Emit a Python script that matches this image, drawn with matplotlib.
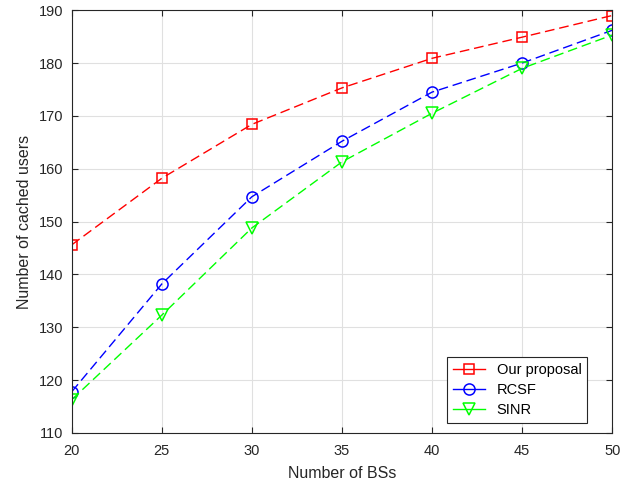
import matplotlib
matplotlib.use('Agg')
import matplotlib.pyplot as plt
from matplotlib.lines import Line2D

plt.rcParams['font.family'] = ['Liberation Sans', 'DejaVu Sans']

num_bs = [20, 25, 30, 35, 40, 45, 50]
our_proposal = [145.6, 158.2, 168.4, 175.3, 180.9, 184.9, 189.0]
rcsf = [117.8, 138.2, 154.7, 165.2, 174.5, 180.0, 186.2]
sinr = [116.3, 132.3, 148.8, 161.3, 170.5, 179.0, 185.3]
labels = ['Our proposal', 'RCSF', 'SINR']
colors = ['#ff0000', '#0000ff', '#00ff00']
markers = ['s', 'o', 'v']
sizes = [7, 8, 8]

fig = plt.figure(figsize=(6.24, 4.87), dpi=100)
ax = fig.add_axes([0.115, 0.111, 0.866, 0.868])

handles = []
for ys, lab, c, m, ms in zip([our_proposal, rcsf, sinr], labels, colors, markers, sizes):
    ax.plot(num_bs, ys, color=c, ls='--', dashes=(7, 3.5), marker=m, mfc='none',
            ms=ms, lw=1.0, mew=1.1)
    handles.append(Line2D([], [], color=c, ls='-', marker=m, mfc='none', ms=ms,
                          lw=1.0, mew=1.1, label=lab))

ax.set_xlim(20, 50)
ax.set_ylim(110, 190)
ax.set_xticks(range(20, 51, 5))
ax.set_yticks(range(110, 191, 10))
ax.grid(True, color='#e0e0e0', lw=0.8)
ax.set_axisbelow(True)
for s in ax.spines.values():
    s.set_color('#262626')
    s.set_linewidth(0.8)
ax.tick_params(direction='in', top=True, right=True, labelsize=10.5, colors='#262626', length=4)
ax.tick_params(axis='x', pad=8)
ax.tick_params(axis='y', pad=6)

ax.set_xlabel('Number of BSs', fontsize=11.5, color='#262626', labelpad=6)
ax.set_ylabel('Number of cached users', fontsize=11.5, color='#262626', labelpad=5)

leg = ax.legend(handles=handles, loc='lower right', bbox_to_anchor=(0.954, 0.024),
                borderaxespad=0, fontsize=10.5, fancybox=False, framealpha=1,
                edgecolor='#262626', handlelength=2.2, borderpad=0.4, labelspacing=0.4)
leg.get_frame().set_linewidth(0.8)

plt.savefig('out.png', dpi=100)
